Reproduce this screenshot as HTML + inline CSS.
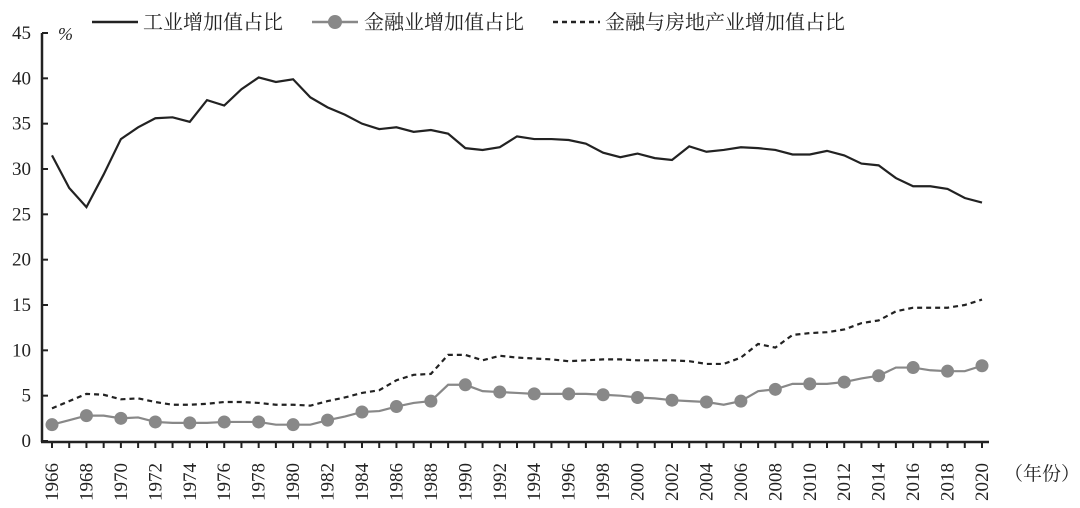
<!DOCTYPE html>
<html><head><meta charset="utf-8"><style>
body{margin:0;background:#fff}
svg{display:block;font-family:"Liberation Serif","Noto Serif CJK SC",serif}
</style></head><body>
<svg id="c" width="1080" height="508" viewBox="0 0 1080 508">
<g id="legend">
<line x1="92" y1="22" x2="138" y2="22" stroke="#222" stroke-width="2.5"/>
<text x="143" y="29" font-size="20" fill="#222">工业增加值占比</text>
<line x1="312" y1="22" x2="358" y2="22" stroke="#888" stroke-width="2.5"/>
<circle cx="335" cy="22" r="7" fill="#888"/>
<text x="364" y="29" font-size="20" fill="#222">金融业增加值占比</text>
<line x1="553" y1="22" x2="600" y2="22" stroke="#222" stroke-width="2.5" stroke-dasharray="5,4"/>
<text x="605" y="29" font-size="20" fill="#222">金融与房地产业增加值占比</text>
</g>
<text x="58" y="40" font-size="18" font-style="italic" fill="#222">%</text>
<text x="1004" y="480" font-size="19" fill="#222">（年份）</text>
</svg>
<script>
const years=[];for(let y=1966;y<=2020;y++)years.push(y);
const industry=[31.5,27.9,25.8,29.4,33.3,34.6,35.6,35.7,35.2,37.6,37.0,38.8,40.1,39.6,39.9,37.9,36.8,36.0,35.0,34.4,34.6,34.1,34.3,33.9,32.3,32.1,32.4,33.6,33.3,33.3,33.2,32.8,31.8,31.3,31.7,31.2,31.0,32.5,31.9,32.1,32.4,32.3,32.1,31.6,31.6,32.0,31.5,30.6,30.4,29.0,28.1,28.1,27.8,26.8,26.3];
const finance=[1.8,2.3,2.8,2.8,2.5,2.6,2.1,2.0,2.0,2.0,2.1,2.1,2.1,1.8,1.8,1.8,2.3,2.7,3.2,3.3,3.8,4.2,4.4,6.2,6.2,5.5,5.4,5.3,5.2,5.2,5.2,5.2,5.1,5.0,4.8,4.7,4.5,4.4,4.3,4.0,4.4,5.5,5.7,6.3,6.3,6.3,6.5,6.9,7.2,8.1,8.1,7.8,7.7,7.7,8.3];
const finRealEstate=[3.6,4.4,5.2,5.1,4.6,4.7,4.3,4.0,4.0,4.1,4.3,4.3,4.2,4.0,4.0,3.9,4.4,4.8,5.3,5.6,6.7,7.3,7.4,9.5,9.5,8.9,9.4,9.2,9.1,9.0,8.8,8.9,9.0,9.0,8.9,8.9,8.9,8.8,8.5,8.5,9.2,10.7,10.3,11.7,11.9,12.0,12.3,13.0,13.3,14.3,14.7,14.7,14.7,15.0,15.6];
const yTicks=[0,5,10,15,20,25,30,35,40,45];
const NS="http://www.w3.org/2000/svg",svg=document.getElementById('c');
const X=y=>52+(y-1966)*(982-52)/54, Y=v=>441-v*(441-33)/45;
function el(t,a,p){const e=document.createElementNS(NS,t);for(const k in a)e.setAttribute(k,a[k]);(p||svg).appendChild(e);return e;}
const ax=el('g',{});


el('line',{x1:42,y1:33,x2:42,y2:442,stroke:'#222','stroke-width':2.5},ax);
el('line',{x1:41,y1:442,x2:989,y2:442,stroke:'#222','stroke-width':2.5},ax);
yTicks.forEach(v=>{el('line',{x1:42,y1:Y(v),x2:48,y2:Y(v),stroke:'#222','stroke-width':2},ax);
const t=el('text',{x:31,y:Y(v)+6,'text-anchor':'end','font-size':19,fill:'#222'},ax);t.textContent=v;

});
years.forEach(y=>{el('line',{x1:X(y),y1:442,x2:X(y),y2:448,stroke:'#222','stroke-width':2},ax);
if(y%2==0){const t=el('text',{transform:`translate(${X(y)+6},501) rotate(-90)`,'font-size':19,fill:'#222'},ax);t.textContent=y;

}});
function pts(a){return a.map((v,i)=>X(years[i])+','+Y(v)).join(' ');}
const l1=el('polyline',{points:pts(industry),fill:'none',stroke:'#222','stroke-width':2.2});


const l3=el('polyline',{points:pts(finRealEstate),fill:'none',stroke:'#222','stroke-width':2.2,'stroke-dasharray':'5,4'});


const l2=el('polyline',{points:pts(finance),fill:'none',stroke:'#888','stroke-width':2.2});


finance.forEach((v,i)=>{if(years[i]%2==0){const c=el('circle',{cx:X(years[i]),cy:Y(v),r:6.5,fill:'#888'});

}});
</script>
</body></html>
